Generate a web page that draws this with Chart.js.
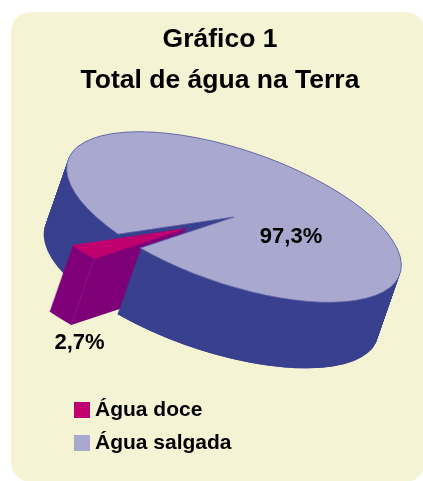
<!DOCTYPE html>
<html lang="pt">
<head>
<meta charset="utf-8">
<title>Gráfico 1</title>
<script src="https://cdn.jsdelivr.net/npm/chart.js@4"></script>
<style>
    html, body { margin: 0; background: #fff; overflow: hidden; }
    #panel { position: absolute; left: 11px; top: 12px; width: 414px; height: 470px; background: #f4f3d4; border-radius: 20px; }
    #waterChart { position: absolute; left: 0; top: 0; }
</style>
</head>
<body>
<div id="panel"></div>
<canvas id="waterChart" width="423" height="481"></canvas>
<script>
// Chart data
const categories = ['Água doce', 'Água salgada'];
const values = [2.7, 97.3];
const titleLines = ['Gráfico 1', 'Total de água na Terra'];

const topColors = ['#c0006f', '#a9a8cf'];
const wallColors = ['#7f0078', '#39418f'];
const FONT = "'Liberation Sans', Arial, sans-serif";

// Fake 3D: the pie is squashed and tilted, then extruded downwards
const CENTER_X = 234, CENTER_Y = 217;
const TILT = 19 * Math.PI / 180;
const SQUASH = 67 / 175.5;
const DEPTH_X = -23, DEPTH_Y = 66;
const SHIFT_X = -46, SHIFT_Y = 11;   // exploded slice

function sector(ctx, radius, from, to, dx, dy) {
    ctx.save();
    ctx.translate(CENTER_X + dx, CENTER_Y + dy);
    ctx.rotate(TILT);
    ctx.scale(1, SQUASH);
    ctx.beginPath();
    ctx.moveTo(0, 0);
    ctx.arc(0, 0, radius, from, to);
    ctx.closePath();
    ctx.restore();
}

function extrude(ctx, radius, from, to, dx, dy, color) {
    ctx.fillStyle = color;
    for (let i = DEPTH_Y; i >= 0; i--) {
        const t = i / DEPTH_Y;
        sector(ctx, radius, from, to, dx + DEPTH_X * t, dy + DEPTH_Y * t);
        ctx.fill();
    }
}

const tiltedPie = {
    id: 'tiltedPie',
    afterLayout(chart) {
        // put the legend where the original has it
        const legend = chart.legend;
        legend.left = 67.5;
        legend.right = 300;
        legend.top = 387.5;
        legend.bottom = 470;
    },
    beforeDatasetDraw(chart, args) {
        const ctx = chart.ctx;
        const [slice, rest] = args.meta.data;
        const r = rest.outerRadius;

        ctx.save();
        // back walls of the big part
        extrude(ctx, r, rest.startAngle, rest.endAngle, 0, 0, wallColors[1]);
        // walls of the slice go in front of those
        extrude(ctx, r, slice.startAngle, slice.endAngle, SHIFT_X, SHIFT_Y, wallColors[0]);
        // front wall of the big part hides the inner side of the slice
        extrude(ctx, r, rest.endAngle - Math.PI * 0.64, rest.endAngle, 0, 0, wallColors[1]);

        // edge between the two purple faces
        const ex = r * Math.cos(slice.startAngle), ey = r * Math.sin(slice.startAngle) * SQUASH;
        const px = CENTER_X + SHIFT_X + ex * Math.cos(TILT) - ey * Math.sin(TILT);
        const py = CENTER_Y + SHIFT_Y + ex * Math.sin(TILT) + ey * Math.cos(TILT);
        ctx.strokeStyle = '#8f1283';
        ctx.lineWidth = 1;
        ctx.beginPath();
        ctx.moveTo(px, py);
        ctx.lineTo(px + DEPTH_X, py + DEPTH_Y);
        ctx.stroke();

        // top faces
        sector(ctx, r, rest.startAngle, rest.endAngle, 0, 0);
        ctx.fillStyle = topColors[1];
        ctx.fill();
        ctx.strokeStyle = '#5b5fa5';
        ctx.lineWidth = 0.8;
        ctx.stroke();
        sector(ctx, r, slice.startAngle, slice.endAngle, SHIFT_X, SHIFT_Y);
        ctx.fillStyle = topColors[0];
        ctx.fill();
        ctx.restore();
        return false;
    },
    afterDraw(chart) {
        const ctx = chart.ctx;
        ctx.save();
        ctx.fillStyle = '#000';
        ctx.font = 'bold 22px ' + FONT;
        ctx.textAlign = 'center';
        ctx.textBaseline = 'middle';
        ctx.fillText(values[0].toString().replace('.', ',') + '%', 79.5, 343);
        ctx.fillText(values[1].toString().replace('.', ',') + '%', 291, 237);
        ctx.restore();
    }
};

const ctx = document.getElementById('waterChart').getContext('2d');
const waterChart = new Chart(ctx, {
    type: 'pie',
    data: {
        labels: categories,
        datasets: [{
            data: values,
            backgroundColor: topColors,
            borderWidth: 0,
            clip: false
        }]
    },
    options: {
        responsive: false,
        animation: false,
        rotation: 206.6,
        radius: 175.5,
        layout: { padding: { left: 17 } },
        plugins: {
            tooltip: { enabled: false },
            title: {
                display: true,
                text: titleLines,
                color: '#000',
                font: { family: FONT, size: 26.5, weight: 'bold', lineHeight: 1.55 },
                padding: { top: 19, bottom: 0 }
            },
            legend: {
                position: 'left',
                align: 'start',
                labels: {
                    usePointStyle: true,
                    pointStyle: 'rect',
                    boxWidth: 5,
                    boxHeight: 16,
                    padding: 12,
                    color: '#000',
                    font: { family: FONT, size: 21, weight: 'bold' }
                }
            }
        }
    },
    plugins: [tiltedPie]
});
</script>
</body>
</html>
